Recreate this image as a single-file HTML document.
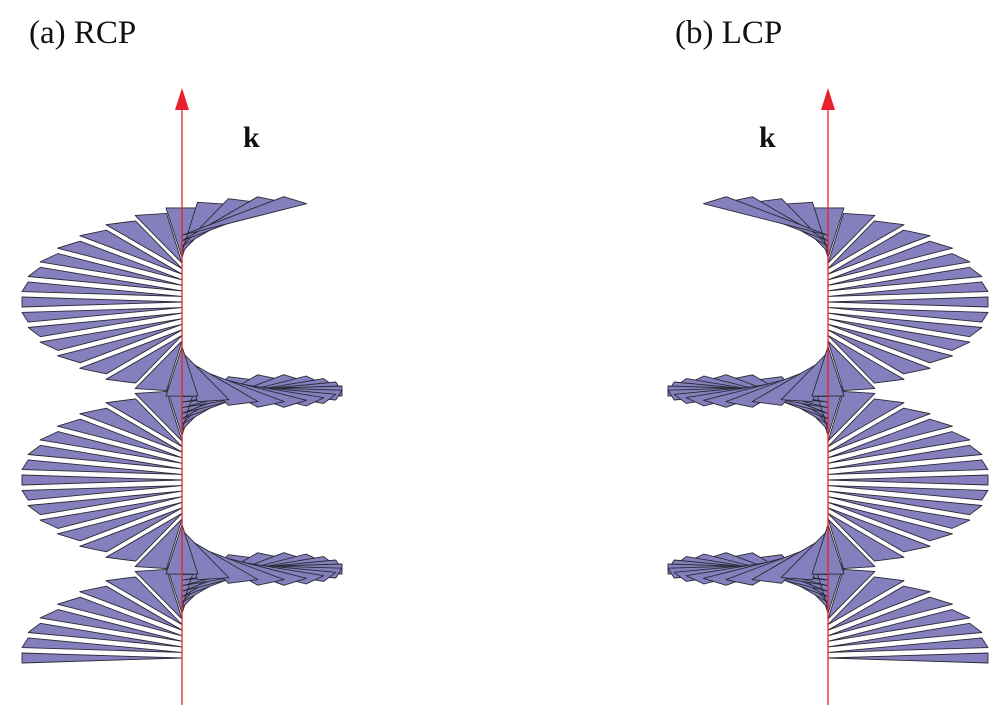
<!DOCTYPE html>
<html>
<head>
<meta charset="utf-8">
<style>
html,body{margin:0;padding:0;background:#fff;}
svg{display:block;}
text{font-family:"Liberation Serif",serif;fill:#111;}
</style>
</head>
<body>
<svg id="fig" width="1005" height="711" viewBox="0 0 1005 711" xmlns="http://www.w3.org/2000/svg">
  <text x="29" y="43" font-size="33">(a) RCP</text>
  <text x="675" y="43" font-size="33">(b) LCP</text>
  <g id="rcp"></g>
  <g id="lcp" transform="translate(1010,0) scale(-1,1)"></g>
  <g>
    <line x1="182" y1="106" x2="182" y2="705" stroke="#e8202a" stroke-width="1.3"/>
    <polygon points="182,88 175,110 189,110" fill="#e8202a"/>
  </g>
  <g>
    <line x1="828" y1="106" x2="828" y2="705" stroke="#e8202a" stroke-width="1.3"/>
    <polygon points="828,88 821,110 835,110" fill="#e8202a"/>
  </g>
  <text x="243" y="147" font-size="30" font-weight="bold">k</text>
  <text x="759" y="147" font-size="30" font-weight="bold">k</text>
</svg>
<script>
// phases of field vectors (degrees), 180 = pointing left (for RCP panel)
const phasesDeg = [];
for (let p = 45; p <= 900.1; p += 11.25) phasesDeg.push(p);
const fieldLength = [160];

const NS = "http://www.w3.org/2000/svg";
const AXIS_X = 182, Y_AT_180 = 302, PX_PER_RAD = 178 / (2 * Math.PI);
const TILT = 0.31, WIDTH = 32;

function yScale(phiRad) { return Y_AT_180 + PX_PER_RAD * (phiRad - Math.PI); }
function project(X, Y, baseY) { return [AXIS_X + X, baseY - TILT * Y]; }

function drawHelix(group, prefix) {
  const L = fieldLength[0];
  const items = phasesDeg.map(d => {
    const phi = d * Math.PI / 180;
    return { d, phi, depth: Math.sin(phi) };
  });
  items.sort((a, b) => b.depth - a.depth);
  items.forEach(it => {
    const base = yScale(it.phi);
    const ex = L * Math.cos(it.phi), ey = L * Math.sin(it.phi);
    const px = -WIDTH / 2 * Math.sin(it.phi), py = WIDTH / 2 * Math.cos(it.phi);
    const A = project(0, 0, base);
    const B = project(ex + px, ey + py, base);
    const C = project(ex - px, ey - py, base);
    const poly = document.createElementNS(NS, "polygon");
    poly.setAttribute("points", [A, B, C].map(p => p[0].toFixed(1) + "," + p[1].toFixed(1)).join(" "));
    poly.setAttribute("fill", "#8580bd");
    poly.setAttribute("stroke", "#2a2a35");
    poly.setAttribute("stroke-width", "0.9");
    poly.setAttribute("stroke-linejoin", "round");
    
    
    group.appendChild(poly);
  });
}
drawHelix(document.getElementById("rcp"), "rcp");
drawHelix(document.getElementById("lcp"), "lcp");
</script>
</body>
</html>
